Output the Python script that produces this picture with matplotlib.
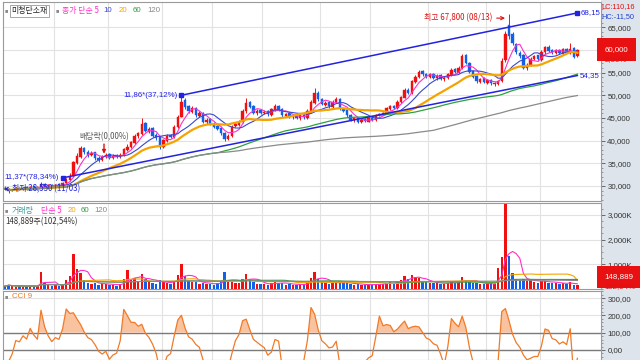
import matplotlib
matplotlib.use("Agg")
import matplotlib.pyplot as plt
import matplotlib.transforms as mtransforms
import matplotlib.ticker as mticker
from matplotlib.patches import Rectangle
import numpy as np
import pandas as pd

# prices in thousand won, volume in thousand shares
opens = [29.6, 29.3, 28.9, 29.1, 29.6, 29.3, 29.7, 29.4, 29.9, 29.4,
         29.7, 30.5, 29.9, 30.3, 29.9, 30.4, 30.0, 30.6, 31.3, 32.2,
         35.0, 36.5, 38.4, 37.6, 36.8, 37.4, 36.2, 35.7, 36.4, 37.0,
         36.1, 36.8, 36.3, 36.8, 38.0, 38.5, 39.5, 41.0, 41.4, 43.8,
         42.0, 42.8, 41.2, 40.7, 38.5, 40.0, 41.2, 40.7, 43.0, 45.3,
         48.9, 47.6, 46.4, 47.2, 45.5, 46.2, 44.0, 44.8, 43.7, 43.3,
         42.8, 41.7, 40.3, 41.0, 43.2, 43.5, 44.0, 46.5, 48.6, 47.6,
         46.0, 46.8, 46.0, 46.5, 45.7, 46.8, 47.7, 46.9, 45.5, 46.0,
         45.1, 45.5, 44.9, 45.7, 45.0, 46.5, 48.4, 50.6, 49.2, 47.9,
         48.5, 47.5, 48.5, 49.2, 47.0, 46.8, 45.7, 44.5, 45.0, 44.0,
         44.7, 44.2, 45.0, 44.5, 45.7, 45.8, 46.0, 47.0, 47.7, 47.1,
         48.5, 49.5, 51.2, 50.5, 53.0, 54.0, 55.3, 54.7, 54.0, 54.7,
         53.7, 54.4, 53.5, 53.8, 54.5, 55.8, 55.0, 56.0, 58.8, 57.2,
         55.3, 54.2, 53.0, 53.8, 52.8, 53.4, 52.4, 52.5, 53.2, 57.8,
         65.5, 63.5, 61.2, 59.3, 58.8, 56.0, 56.7, 58.0, 58.8, 57.8,
         59.5, 60.7, 59.9, 59.4, 60.0, 59.2, 60.2, 59.4, 60.4, 58.6]
highs = [29.9, 29.5, 29.4, 29.7, 29.8, 29.8, 29.9, 30.0, 30.1, 29.9,
         30.8, 30.7, 30.4, 30.5, 30.5, 30.6, 30.9, 31.7, 32.8, 35.6,
         37.2, 38.8, 38.6, 37.9, 37.7, 37.6, 36.6, 36.8, 37.3, 37.2,
         37.0, 37.0, 37.2, 38.4, 39.2, 40.0, 41.4, 42.0, 45.0, 44.0,
         43.0, 43.0, 41.6, 40.9, 40.4, 41.4, 41.4, 43.4, 45.6, 50.0,
         49.4, 47.9, 47.6, 47.4, 46.5, 46.4, 45.0, 44.9, 44.0, 43.5,
         43.0, 41.9, 41.5, 43.4, 44.0, 44.5, 46.9, 49.4, 48.8, 47.8,
         47.0, 47.0, 46.7, 46.7, 47.2, 48.0, 47.9, 47.1, 46.2, 46.2,
         45.8, 45.7, 45.9, 45.9, 46.9, 48.9, 51.5, 50.9, 49.4, 48.7,
         48.8, 48.9, 49.6, 49.4, 47.3, 47.0, 45.9, 45.2, 45.2, 44.9,
         44.9, 45.1, 45.2, 45.9, 46.2, 46.4, 47.4, 47.9, 47.9, 48.9,
         49.9, 51.5, 51.5, 53.4, 54.4, 55.6, 55.6, 55.0, 54.9, 54.9,
         54.6, 54.7, 54.2, 54.9, 55.9, 56.1, 56.4, 59.2, 59.0, 57.4,
         55.6, 54.5, 53.9, 54.0, 53.6, 53.6, 52.9, 53.4, 58.2, 64.2,
         67.8, 64.0, 61.5, 59.8, 59.0, 57.0, 58.4, 58.9, 58.9, 59.9,
         60.9, 61.1, 60.1, 60.2, 60.3, 60.4, 60.5, 61.6, 60.6, 60.3]
lows = [29.1, 28.55, 28.8, 29.0, 29.1, 29.2, 29.2, 29.3, 29.3, 29.2,
        29.6, 29.8, 29.7, 29.7, 29.8, 29.9, 29.9, 30.4, 31.1, 32.0,
        34.8, 36.2, 37.1, 36.5, 36.6, 35.8, 35.4, 35.5, 36.1, 35.9,
        35.9, 36.1, 36.1, 36.6, 37.8, 38.3, 39.2, 40.6, 41.2, 41.8,
        41.6, 40.8, 40.2, 38.2, 38.3, 39.7, 40.5, 40.5, 42.8, 45.1,
        47.0, 46.1, 46.1, 45.3, 45.2, 43.8, 43.7, 43.4, 42.8, 42.3,
        41.3, 40.0, 40.1, 40.8, 42.9, 43.2, 43.8, 46.2, 47.1, 45.8,
        45.7, 45.8, 45.8, 45.5, 45.5, 46.5, 46.5, 45.3, 45.2, 44.9,
        44.8, 44.7, 44.6, 44.8, 44.8, 46.3, 48.1, 48.8, 47.8, 47.6,
        47.3, 47.2, 48.2, 46.8, 46.3, 45.3, 44.3, 44.2, 43.8, 43.8,
        44.0, 44.0, 44.3, 44.3, 45.5, 45.6, 45.8, 46.8, 46.9, 46.9,
        48.2, 49.3, 50.2, 50.3, 52.7, 53.8, 54.3, 53.8, 53.7, 53.5,
        53.4, 53.3, 53.2, 53.6, 54.3, 54.8, 54.8, 55.8, 56.8, 54.8,
        53.8, 52.8, 52.7, 52.6, 52.5, 52.3, 52.1, 52.2, 52.9, 57.4,
        62.5, 61.0, 59.0, 58.2, 55.8, 55.6, 56.5, 57.7, 57.5, 57.6,
        59.2, 59.6, 59.2, 59.1, 59.1, 59.0, 59.3, 59.2, 58.3, 58.4]
closes = [29.4, 28.9, 29.2, 29.5, 29.3, 29.6, 29.4, 29.8, 29.5, 29.7,
          30.4, 30.0, 30.2, 29.9, 30.3, 30.1, 30.6, 31.4, 32.3, 35.2,
          36.6, 38.3, 37.4, 36.9, 37.3, 36.1, 35.8, 36.5, 36.9, 36.2,
          36.7, 36.4, 36.9, 38.1, 38.6, 39.6, 41.0, 41.6, 43.6, 42.1,
          42.6, 41.1, 40.6, 38.6, 40.1, 41.0, 40.8, 43.1, 45.2, 48.6,
          47.4, 46.5, 47.1, 45.6, 46.1, 44.1, 44.6, 43.6, 43.1, 42.6,
          41.6, 40.4, 41.1, 43.1, 43.6, 44.1, 46.6, 48.4, 47.5, 46.1,
          46.6, 46.1, 46.4, 45.8, 46.9, 47.6, 46.8, 45.6, 45.9, 45.2,
          45.4, 45.0, 45.6, 45.1, 46.6, 48.6, 50.4, 49.1, 48.1, 48.4,
          47.6, 48.6, 49.1, 47.1, 46.6, 45.6, 44.6, 44.9, 44.1, 44.6,
          44.3, 44.9, 44.6, 45.6, 45.9, 46.1, 47.1, 47.6, 47.2, 48.6,
          49.6, 51.1, 50.6, 53.1, 54.1, 55.1, 54.6, 54.1, 54.6, 53.8,
          54.3, 53.6, 53.9, 54.6, 55.6, 55.1, 56.1, 58.6, 57.1, 55.1,
          54.1, 53.1, 53.6, 52.9, 53.3, 52.6, 52.6, 53.1, 57.6, 63.6,
          63.0, 61.5, 59.5, 58.6, 56.1, 56.6, 58.1, 58.6, 57.9, 59.6,
          60.6, 59.8, 59.5, 59.9, 59.3, 60.1, 59.5, 60.3, 58.5, 60.0]
volumes = [120, 180, 110, 95, 130, 90, 105, 140, 100, 115,
           700, 260, 160, 120, 180, 140, 220, 380, 520, 1400,
           820, 640, 360, 250, 210, 230, 180, 240, 190, 160,
           170, 140, 200, 420, 780, 360, 450, 330, 600, 420,
           300, 260, 220, 380, 280, 240, 190, 340, 560, 1000,
           520, 340, 280, 300, 220, 260, 190, 220, 180, 240,
           320, 700, 280, 300, 240, 260, 420, 620, 420, 300,
           220, 190, 200, 170, 260, 300, 230, 240, 180, 190,
           170, 180, 200, 160, 320, 460, 700, 420, 300, 240,
           220, 260, 300, 250, 230, 240, 220, 180, 200, 170,
           160, 180, 170, 220, 200, 210, 260, 280, 220, 330,
           360, 520, 400, 560, 480, 440, 300, 280, 260, 230,
           240, 220, 210, 260, 300, 250, 290, 480, 360, 300,
           260, 240, 200, 210, 190, 230, 200, 850, 1300, 3450,
           1350, 640, 420, 350, 400, 320, 380, 300, 260, 320,
           340, 260, 240, 230, 220, 250, 210, 300, 145.2, 148.889]

month_starts = [14, 29, 44, 58, 72, 88, 102, 118, 134, 149]
upper_trend_idx = [49, 159]
upper_trend_val = [50.0, 68.15]
lower_trend_idx = [16, 159]
lower_trend_val = [31.8, 54.35]
high_idx, high_val = 140, 67.8
low_idx, low_val = 1, 28.55
exdiv_idx = 27.5
price_ticks = [30, 35, 40, 45, 50, 55, 60, 65]
vol_ticks = [1000, 2000, 3000]
cci_ticks = [0, 100, 200, 300]
ma_periods = [5, 10, 20, 60, 120]

# ---- look ----
W, H = 640, 360
FS = 5.7
RED, BLUE = "#f01010", "#1060e8"
LINE_BLUE = "#2222e0"
MA_COLORS = {5: "#ff30c8", 10: "#3a48d0", 20: "#f5a300", 60: "#2fa040", 120: "#8a8a8a"}
MA_WIDTH = {5: 0.8, 10: 0.8, 20: 1.6, 60: 0.9, 120: 0.9}
GRID = "#e2e2e2"
AXIS_BG = "#dde4ec"
NUM_FONT = ["Liberation Sans", "DejaVu Sans"]
KR_FONT = ["Noto Sans CJK KR", "DejaVu Sans"]
plt.rcParams["font.family"] = NUM_FONT


def fbox(x0, y0, x1, y1):
    return [x0 / W, 1 - y1 / H, (x1 - x0) / W, (y1 - y0) / H]


def ftext(x, y, s, **kw):
    kw.setdefault("va", "center")
    kw.setdefault("fontsize", FS)
    fig.text(x / W, 1 - y / H, s, **kw)


def comma(s):
    return s.replace(".", ",")


idx = np.arange(len(closes))
o = np.array(opens)
h = np.array(highs)
l = np.array(lows)
c = np.array(closes)
v = np.array(volumes)
up = c >= o
colors = np.where(up, RED, BLUE)

fig = plt.figure(figsize=(6.4, 3.6), dpi=100, facecolor=AXIS_BG)
fig.patches.append(Rectangle((0, 0), 601 / W, 1, transform=fig.transFigure,
                             facecolor="white", edgecolor="none", zorder=-5))

ax_p = fig.add_axes(fbox(3, 2, 601, 201))
ax_v = fig.add_axes(fbox(3, 203, 601, 289))
ax_c = fig.add_axes(fbox(3, 291, 601, 360))

xlim = (-2 / 3.6, -2 / 3.6 + 598 / 3.6)
for ax in (ax_p, ax_v, ax_c):
    ax.set_xlim(*xlim)
    ax.set_xticks([])
    ax.yaxis.tick_right()
    ax.tick_params(axis="y", which="major", direction="out", length=3, width=0.6,
                   color="#555555", labelsize=FS, labelcolor="#333333", pad=1.5)
    ax.tick_params(axis="y", which="minor", direction="out", length=1.5, width=0.5,
                   color="#777777")
    for sp in ax.spines.values():
        sp.set_color("#9a9a9a")
        sp.set_linewidth(0.8)
    for m in month_starts:
        ax.axvline(m - 0.5, color=GRID, lw=0.8, zorder=0)

# ---- price pane ----
ax_p.set_ylim(26.7, 70.55)
ax_p.set_yticks(price_ticks)
ax_p.set_yticklabels(["" if t == 60 else f"{t * 1000:,}" for t in price_ticks])
ax_p.yaxis.set_minor_locator(mticker.MultipleLocator(1))
for t in price_ticks:
    ax_p.axhline(t, color=GRID, lw=0.8, zorder=0)

ax_p.vlines(idx, l, h, colors=colors, lw=0.7, zorder=3)
body = np.maximum(np.abs(c - o), 0.08)
ax_p.bar(idx, body, bottom=np.minimum(o, c), width=0.62, color=colors,
         edgecolor=colors, linewidth=0.3, zorder=3)

cs = pd.Series(c)
for n in ma_periods:
    ax_p.plot(idx, cs.rolling(n, min_periods=1).mean(), color=MA_COLORS[n],
              lw=MA_WIDTH[n], zorder=4)

ax_p.plot(upper_trend_idx, upper_trend_val, color=LINE_BLUE, lw=1.1, zorder=5)
ax_p.plot(upper_trend_idx, upper_trend_val, "s", color=LINE_BLUE, ms=3, zorder=5)
ax_p.plot(lower_trend_idx, lower_trend_val, color=LINE_BLUE, lw=1.1, zorder=5)
ax_p.plot(lower_trend_idx[:1], lower_trend_val[:1], "s", color=LINE_BLUE, ms=3, zorder=5)

ax_p.annotate("11,86*(37,12%)", xy=(upper_trend_idx[0], upper_trend_val[0]), xytext=(-2.5, 0),
              textcoords="offset points", ha="right", va="center", fontsize=FS,
              color=LINE_BLUE, zorder=6)
ax_p.annotate(comma(f"{upper_trend_val[1]:.2f}"), xy=(upper_trend_idx[1], upper_trend_val[1]),
              xytext=(2, 0), textcoords="offset points", ha="left", va="center",
              fontsize=FS, color=LINE_BLUE, annotation_clip=False)
ax_p.annotate("11,37*(78,34%)", xy=(lower_trend_idx[0], lower_trend_val[0]), xytext=(-2.5, 0),
              textcoords="offset points", ha="right", va="center", fontsize=FS,
              color=LINE_BLUE, zorder=2)
ax_p.annotate(comma(f"{lower_trend_val[1]:.2f}"), xy=(lower_trend_idx[1], lower_trend_val[1]),
              xytext=(2, 0), textcoords="offset points", ha="left", va="center",
              fontsize=FS, color=LINE_BLUE, annotation_clip=False)

ax_p.annotate(f"최고 {int(high_val * 1000):,} (08/13)", xy=(high_idx - 1.1, high_val - 0.8),
              xytext=(-9, 0), textcoords="offset points", ha="right", va="center",
              fontsize=FS, color="#e01010", family=KR_FONT,
              arrowprops=dict(arrowstyle="->", color="#e01010", lw=0.8,
                              shrinkA=1, shrinkB=0), zorder=6)
ax_p.annotate(f"최저 {int(low_val * 1000):,} (11/03)", xy=(low_idx - 1.3, low_val + 0.8),
              xytext=(6, 0), textcoords="offset points", ha="left", va="center",
              fontsize=FS, color=LINE_BLUE, family=KR_FONT,
              arrowprops=dict(arrowstyle="->", color=LINE_BLUE, lw=0.8,
                              shrinkA=1, shrinkB=0), zorder=6)
ax_p.annotate("배당락(0,00%)", xy=(exdiv_idx, highs[int(exdiv_idx)] + 0.3), xytext=(0, 9),
              textcoords="offset points", ha="center", va="bottom", fontsize=FS,
              color="#555555", family=KR_FONT,
              arrowprops=dict(arrowstyle="-|>", color="#e01010", lw=1.0,
                              mutation_scale=5, shrinkA=0, shrinkB=0), zorder=6)

bt = mtransforms.blended_transform_factory(ax_p.transAxes, ax_p.transData)
ax_p.text(1.006, c[-1], f"{int(round(c[-1] * 1000)):,}", transform=bt, ha="left",
          va="center", fontsize=FS, color="white",
          bbox=dict(facecolor="#e81010", edgecolor="none", pad=1.0, boxstyle="square"))
chg = (c[-1] / c[-2] - 1) * 100
ax_p.text(1.006, c[-1] - 2.2, comma(f"{chg:.2f}%"), transform=bt, ha="left",
          va="center", fontsize=FS, color="#e01010")

# ---- volume pane ----
ax_v.set_ylim(0, 3480)
ax_v.set_yticks(vol_ticks)
ax_v.set_yticklabels([f"{t:,}K" for t in vol_ticks])
ax_v.yaxis.set_minor_locator(mticker.MultipleLocator(250))
for t in vol_ticks:
    ax_v.axhline(t, color=GRID, lw=0.8, zorder=0)
ax_v.bar(idx, np.maximum(v, 60), width=0.7, color=colors, linewidth=0, zorder=3)
vs = pd.Series(v)
for n in [5, 20, 60, 120]:
    ax_v.plot(idx, vs.rolling(n, min_periods=1).mean(), color=MA_COLORS[n],
              lw=0.8, zorder=4)
vt = ax_v.transAxes
ax_v.text(1.006, 0.14, f"{int(round(v[-1] * 1000)):,}", transform=vt, ha="left", va="center",
          fontsize=FS, color="white",
          bbox=dict(facecolor="#e81010", edgecolor="none", pad=1.0, boxstyle="square"))
vpct = v[-1] / v[-2] * 100
ax_v.text(1.006, 0.03, comma(f"{vpct:.2f}%"), transform=vt, ha="left", va="center",
          fontsize=FS, color="#e01010")

# ---- CCI pane ----
hs, ls = pd.Series(h), pd.Series(l)
tp = (hs + ls + cs) / 3
sma = tp.rolling(9, min_periods=1).mean()
mad = tp.rolling(9, min_periods=1).apply(lambda s: np.mean(np.abs(s - s.mean())), raw=True)
cci = ((tp - sma) / (0.015 * mad)).to_numpy()

ax_c.set_ylim(-57.8, 341)
ax_c.set_yticks(cci_ticks)
ax_c.set_yticklabels([f"{t},00" for t in cci_ticks])
ax_c.yaxis.set_minor_locator(mticker.MultipleLocator(20))
for t in (200, 300):
    ax_c.axhline(t, color=GRID, lw=0.8, zorder=0)
for t in (0, 100):
    ax_c.axhline(t, color="#7a7a7a", lw=1.0, zorder=1)
ax_c.fill_between(idx, cci, 100, where=cci > 100, interpolate=True, color="#f9c3a0",
                  lw=0, zorder=2)
ax_c.plot(idx, cci, color="#f07a28", lw=0.9, zorder=3)

# ---- header texts ----
ftext(5, 11, "■", fontsize=4, color="#8a8a8a")
ftext(11, 11, "미청단소재", family=KR_FONT, color="#222222",
      bbox=dict(facecolor="white", edgecolor="#999999", pad=1.0, lw=0.6))
ftext(56, 11, "■", fontsize=4, color="#8a8a8a")
ftext(62, 11, "종가 단순 5", family=KR_FONT, color=MA_COLORS[5])
ftext(103, 11, "10", color=MA_COLORS[10])
ftext(119, 11, "20", color=MA_COLORS[20])
ftext(133, 11, "60", color=MA_COLORS[60])
ftext(147, 11, "120", color=MA_COLORS[120])

ftext(5, 211, "■", fontsize=4, color="#8a8a8a")
ftext(12, 211, "거래량", family=KR_FONT, color="#3a9a9a")
ftext(41, 211, "단순 5", family=KR_FONT, color=MA_COLORS[5])
ftext(68, 211, "20", color=MA_COLORS[20])
ftext(81, 211, "60", color=MA_COLORS[60])
ftext(94, 211, "120", color=MA_COLORS[120])
ftext(5, 222, f"{int(round(v[-1] * 1000)):,}주({comma(f'{vpct:.2f}')}%)",
      family=KR_FONT, color="#333333")

ftext(5, 297, "■", fontsize=4, color="#8a8a8a")
ftext(12, 297, "CCI 9", color="#f07a28")

ftext(601.5, 7, "LC:110,16", fontsize=5.3, color="#e01010")
ftext(601.5, 17, "HC:-11,50", fontsize=5.3, color="#2040d0")

fig.savefig("out.png", dpi=100, facecolor=fig.get_facecolor())
